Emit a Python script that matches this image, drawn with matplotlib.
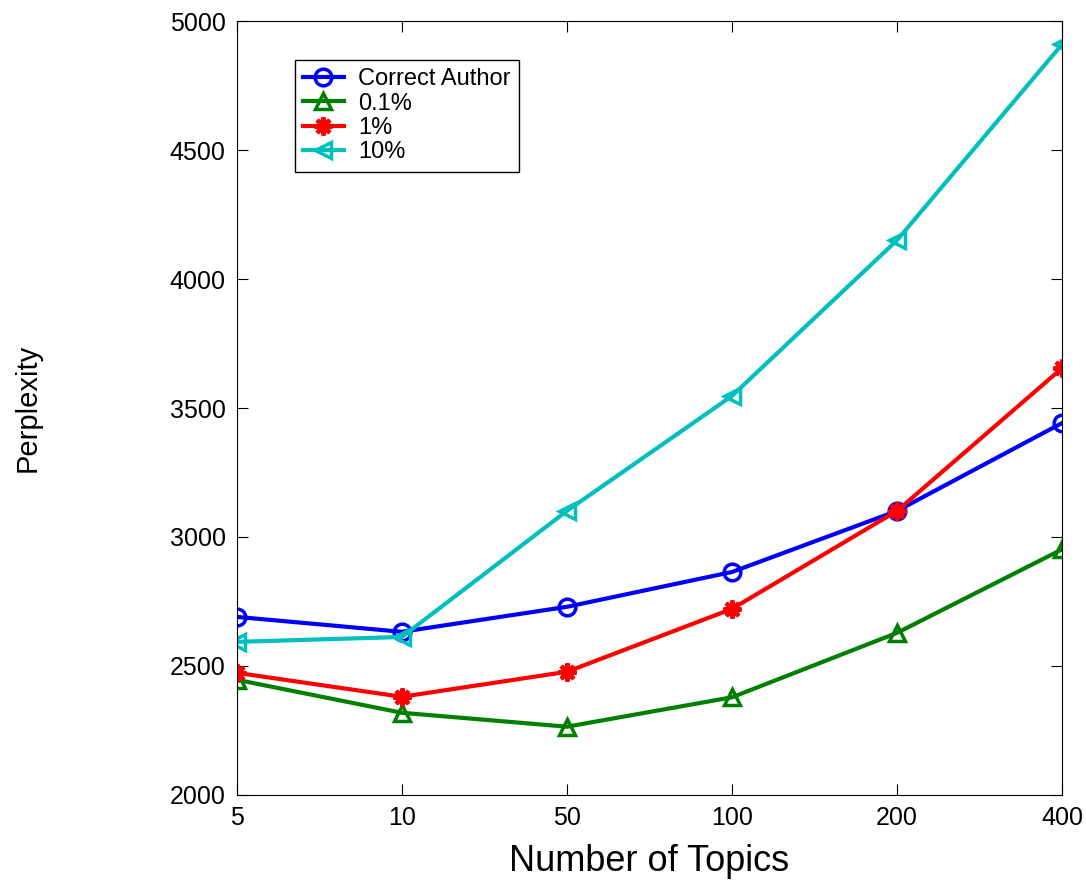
import matplotlib
matplotlib.use("Agg")
import matplotlib.pyplot as plt

plt.rcParams['font.family'] = ['Liberation Sans', 'DejaVu Sans']

topics = ['5', '10', '50', '100', '200', '400']
correct_author = [2690, 2632, 2729, 2864, 3101, 3442]
p01 = [2446, 2318, 2264, 2378, 2628, 2952]
p1 = [2473, 2380, 2477, 2721, 3101, 3655]
p10 = [2593, 2612, 3101, 3547, 4151, 4911]

x = list(range(len(topics)))

fig = plt.figure(figsize=(10.86, 8.88), dpi=100)
ax = fig.add_axes([0.218, 0.105, 0.76, 0.871])

ax.plot(x, correct_author, color='#0000ff', lw=3, marker='o', ms=12,
        mfc='none', mew=2.5, label='Correct Author')
ax.plot(x, p01, color='#008000', lw=3, marker='^', ms=12,
        mfc='none', mew=2.5, label='0.1%')
ax.plot(x, p1, color='#ff0000', lw=3, marker=(8, 2, 0), ms=13,
        mew=3, label='1%')
ax.plot(x, p10, color='#00bfbf', lw=3, marker='<', ms=12,
        mfc='none', mew=2.5, label='10%')

ax.set_xlim(0, 5)
ax.set_ylim(2000, 5000)
ax.set_xticks(x)
ax.set_xticklabels(topics)
ax.set_yticks(range(2000, 5001, 500))
ax.tick_params(direction='in', top=True, right=True, labelsize=18, length=8, pad=8)

ax.set_xlabel('Number of Topics', fontsize=26, labelpad=10)
ax.set_ylabel('Perplexity', fontsize=21, labelpad=92)

leg = ax.legend(loc='upper left', bbox_to_anchor=(0.07, 0.95), fontsize=17,
                fancybox=False, edgecolor='black', framealpha=1,
                handlelength=1.75, handletextpad=0.6, borderpad=0.35,
                labelspacing=0.1, borderaxespad=0)
leg.get_frame().set_linewidth(1)

fig.savefig('out.png', dpi=100)
